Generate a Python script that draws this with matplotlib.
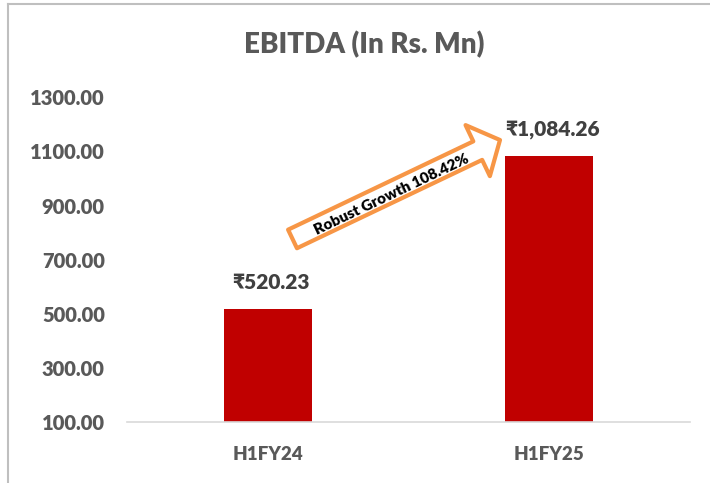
import matplotlib
matplotlib.use("Agg")
import matplotlib.pyplot as plt
from matplotlib.lines import Line2D

periods = ["H1FY24", "H1FY25"]
ebitda = [520.23, 1084.26]
value_labels = ["₹520.23", "₹1,084.26"]
growth_text = "Robust Growth 108.42%"
y_ticks = [100, 300, 500, 700, 900, 1100, 1300]

plt.rcParams['font.family'] = ['Lato', 'DejaVu Sans']
W = 'heavy'

fig = plt.figure(figsize=(7.1, 4.83), dpi=100)
ax = fig.add_axes([0.1789, 0.1253, 0.7929, 0.6735])

x = list(range(len(periods)))
base = y_ticks[0]
ax.bar(x, [v - base for v in ebitda], bottom=base, width=0.313, color='#C00000', zorder=2)

ax.set_xlim(-0.5, 1.5)
ax.set_ylim(y_ticks[0], y_ticks[-1])
ax.set_yticks(y_ticks)
ax.set_yticklabels(["%.2f" % t for t in y_ticks])
ax.set_xticks(x)
ax.set_xticklabels(periods)

for s in ['top', 'right', 'left']:
    ax.spines[s].set_visible(False)
ax.spines['bottom'].set_color('#D9D9D9')
ax.spines['bottom'].set_linewidth(1.2)

ax.tick_params(axis='y', length=0, pad=16, labelsize=14.5, labelcolor='#595959')
ax.tick_params(axis='x', length=0, pad=17, labelsize=13.5, labelcolor='#595959')
for lbl in ax.get_xticklabels() + ax.get_yticklabels():
    lbl.set_fontweight(W)

# value labels above bars
for xi, v, lab in zip(x, ebitda, value_labels):
    ax.annotate(lab, (xi, v), xytext=(2, 12), textcoords='offset points',
                ha='center', va='bottom', fontsize=15, fontweight=W, color='#404040')

# growth arrow
ax.annotate("", xy=(0.825, 1142), xytext=(0.088, 777),
            arrowprops=dict(arrowstyle="simple,head_length=0.24,head_width=0.55,tail_width=0.2",
                            mutation_scale=74, facecolor='white', edgecolor='#F79646',
                            linewidth=3, shrinkA=0, shrinkB=0), zorder=3)
ax.text(0.44, 940, growth_text, rotation=25.5, rotation_mode='anchor',
        ha='center', va='center', fontsize=11, fontweight=W, color='black', zorder=4)

fig.text(364 / 710, 1 - 45 / 483, "EBITDA (In Rs. Mn)", ha='center', va='center',
         fontsize=20, fontweight=W, color='#595959')

# chart border (left and top visible)
fig.add_artist(Line2D([8 / 710, 8 / 710], [0, 1 - 4 / 483], transform=fig.transFigure,
                      color='#BFBFBF', linewidth=1.5))
fig.add_artist(Line2D([8 / 710, 1], [1 - 4 / 483, 1 - 4 / 483], transform=fig.transFigure,
                      color='#BFBFBF', linewidth=1.5))

fig.savefig("out.png", dpi=100)
